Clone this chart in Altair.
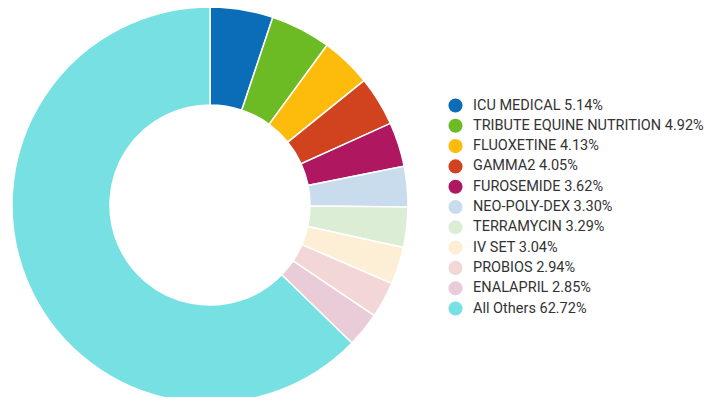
import altair as alt
import pandas as pd

names = ["ICU MEDICAL", "TRIBUTE EQUINE NUTRITION", "FLUOXETINE", "GAMMA2", "FUROSEMIDE",
         "NEO-POLY-DEX", "TERRAMYCIN", "IV SET", "PROBIOS", "ENALAPRIL", "All Others"]
shares = [5.14, 4.92, 4.13, 4.05, 3.62, 3.30, 3.29, 3.04, 2.94, 2.85, 62.72]
colors = ["#0B6DB7", "#6CBB24", "#FDBB0B", "#D1421F", "#AF1761", "#C9DCEE",
          "#DCEDD6", "#FDEED6", "#F2D7D6", "#E9CCD8", "#76E0E3"]

labels = [f"{n} {s:.2f}%" for n, s in zip(names, shares)]
df = pd.DataFrame({"label": labels, "share": shares, "order": list(range(len(names)))})

chart = alt.Chart(df).mark_arc(
    innerRadius=100, outerRadius=198, stroke="white", strokeWidth=1.5
).encode(
    theta=alt.Theta("share:Q", stack=True),
    order=alt.Order("order:Q"),
    x=alt.value(202),
    y=alt.value(197),
    color=alt.Color(
        "label:N",
        sort=labels,
        scale=alt.Scale(domain=labels, range=colors),
        legend=alt.Legend(
            title=None, orient="none", legendX=440, legendY=90,
            symbolType="circle", symbolSize=200, symbolStrokeWidth=0,
            labelFont="Roboto", labelFontSize=14.5, labelColor="#333333",
            rowPadding=4.3, labelOffset=10, labelLimit=400,
        ),
    ),
).properties(
    width=702, height=389, autosize=alt.AutoSizeParams(type="none"), padding=0
).configure_view(stroke=None)

chart.save("out.html", embed_options={"renderer": "svg", "actions": False})
